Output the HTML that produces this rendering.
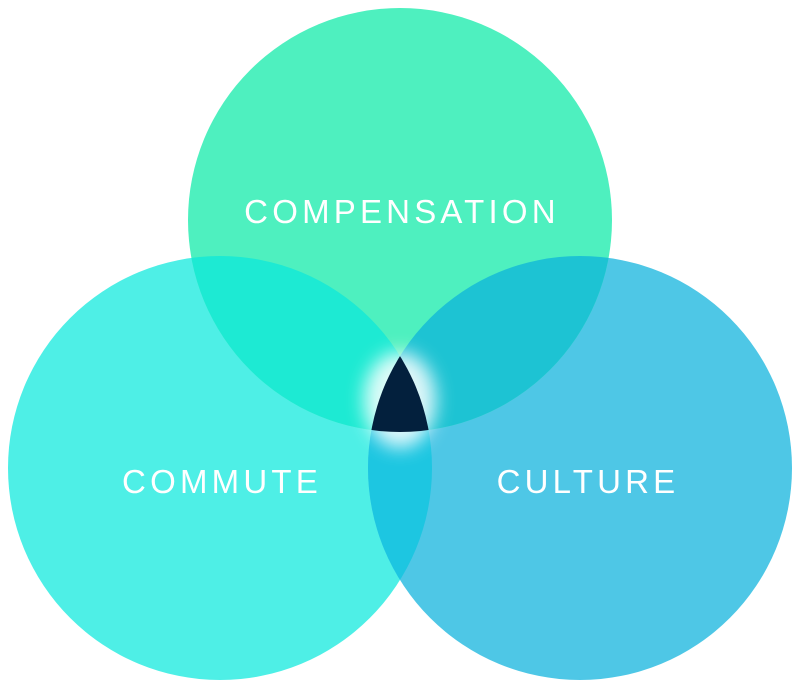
<!DOCTYPE html>
<html><head><style>html,body{margin:0;padding:0;background:#fff}svg{display:block}</style></head>
<body>
<svg width="800" height="691" viewBox="0 0 800 691" xmlns="http://www.w3.org/2000/svg">
<defs>
<clipPath id="cT"><circle cx="400" cy="220" r="212"/></clipPath>
<clipPath id="cL"><circle cx="220" cy="468" r="212"/></clipPath>
<clipPath id="cR"><circle cx="580" cy="468" r="212"/></clipPath>
<filter id="blur" x="-1" y="-1" width="3" height="3"><feGaussianBlur stdDeviation="9"/></filter>
</defs>
<circle cx="220" cy="468" r="212" fill="#4EEFE6"/>
<circle cx="580" cy="468" r="212" fill="#4EC7E6"/>
<circle cx="400" cy="220" r="212" fill="#4EF0BF"/>
<g clip-path="url(#cL)"><circle cx="580" cy="468" r="212" fill="#1DC6E1"/></g>
<g clip-path="url(#cT)"><circle cx="220" cy="468" r="212" fill="#1DEAD3"/></g>
<g clip-path="url(#cT)"><circle cx="580" cy="468" r="212" fill="#1DC3D3"/></g>
<ellipse cx="400" cy="400" rx="36" ry="48" fill="#fff" opacity="0.85" filter="url(#blur)"/>
<g clip-path="url(#cT)"><g clip-path="url(#cL)"><circle cx="580" cy="468" r="212" fill="#03203D"/></g></g>
<g font-family="Liberation Sans, sans-serif" font-size="33" fill="#fff" letter-spacing="4.2" text-anchor="middle">
<text x="402" y="223">COMPENSATION</text>
<text x="222" y="493">COMMUTE</text>
<text x="588" y="493">CULTURE</text>
</g>
</svg>
</body></html>
